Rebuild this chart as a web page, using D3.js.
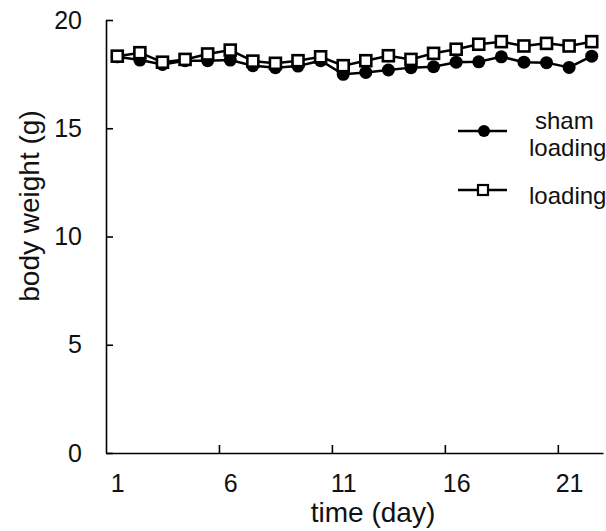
<!DOCTYPE html>
<html lang="en">
<head>
    <meta charset="UTF-8">
    <title>Body weight over time</title>
    <style>
        body{
            margin: 0;
            background-color: #ffffff;
        }
        svg{
            display: block;
            font-family: "Liberation Sans", Arial, sans-serif;
        }
        .axis path, .axis line{
            stroke: #000;
            stroke-width: 1.6px;
        }
        .axis text{
            font-size: 25px;
            fill: #111;
        }
        .label{
            font-size: 28px;
            fill: #111;
        }
        .legend text{
            font-size: 24px;
            fill: #111;
        }
    </style>
    <script src="https://cdn.jsdelivr.net/npm/d3@7"></script>
</head>
<body>
    <script>
        // days and the two series (body weight in g)
        const days = d3.range(1, 23);
        const dayLabels = [1, 6, 11, 16, 21];
        const yTicks = [0, 5, 10, 15, 20];
        const shamLoading = [18.3, 18.15, 17.95, 18.12, 18.12, 18.15, 17.89, 17.8, 17.87, 18.12, 17.49,
            17.58, 17.69, 17.8, 17.84, 18.05, 18.07, 18.3, 18.05, 18.03, 17.81, 18.33];
        const loading = [18.33, 18.49, 18.05, 18.18, 18.43, 18.61, 18.1, 18.0, 18.12, 18.3, 17.89,
            18.12, 18.35, 18.18, 18.46, 18.65, 18.88, 19.0, 18.8, 18.92, 18.8, 19.0];

        const width = 606;
        const height = 531;
        const margins = {top: 20, bottom: 78, left: 106, right: 3};

        const svg = d3.select("body").append("svg")
            .attr("width", width)
            .attr("height", height);

        // category axis: each day takes one slot, ticks sit between slots
        const xScale = d3.scaleLinear()
            .domain([0.5, 22.5])
            .range([margins.left, width - margins.right]);
        const yScale = d3.scaleLinear()
            .domain([0, 20])
            .range([height - margins.bottom, margins.top]);

        // x axis with inside ticks at the slot borders
        svg.append("g").attr("class", "axis")
            .attr("transform", `translate(0,${height - margins.bottom})`)
            .call(d3.axisBottom(xScale)
                .tickValues([5.5, 10.5, 15.5, 20.5])
                .tickSize(-8)
                .tickSizeOuter(0)
                .tickFormat(""));
        // x labels centred on the days
        svg.append("g").attr("class", "axis")
            .attr("transform", `translate(0,${height - margins.bottom})`)
            .call(d3.axisBottom(xScale)
                .tickValues(dayLabels)
                .tickSize(0)
                .tickPadding(21))
            .call(g => g.select(".domain").remove());

        // y axis
        svg.append("g").attr("class", "axis")
            .attr("transform", `translate(${margins.left},0)`)
            .call(d3.axisLeft(yScale)
                .tickValues(yTicks)
                .tickSize(-7)
                .tickSizeOuter(0)
                .tickPadding(24));

        // lines + markers
        const series = [
            {name: "sham", values: shamLoading, marker: "circle"},
            {name: "loading", values: loading, marker: "square"}
        ];
        const lineGen = d3.line()
            .x((d, i) => xScale(days[i]))
            .y(d => yScale(d));

        series.forEach(s => {
            const g = svg.append("g").attr("class", s.name);
            g.append("path")
                .attr("d", lineGen(s.values))
                .attr("fill", "none")
                .attr("stroke", "#000")
                .attr("stroke-width", 2.5);
            if (s.marker === "circle") {
                g.selectAll("circle")
                    .data(s.values)
                    .enter()
                    .append("circle")
                    .attr("cx", (d, i) => xScale(days[i]))
                    .attr("cy", d => yScale(d))
                    .attr("r", 6.5)
                    .attr("fill", "#000");
            } else {
                g.selectAll("rect")
                    .data(s.values)
                    .enter()
                    .append("rect")
                    .attr("x", (d, i) => xScale(days[i]) - 5.5)
                    .attr("y", d => yScale(d) - 5.5)
                    .attr("width", 11)
                    .attr("height", 11)
                    .attr("fill", "#fff")
                    .attr("stroke", "#000")
                    .attr("stroke-width", 2.6);
            }
        });

        // legend
        const legend = svg.append("g").attr("class", "legend");
        legend.append("line")
            .attr("x1", 458).attr("x2", 507)
            .attr("y1", 131).attr("y2", 131)
            .attr("stroke", "#000").attr("stroke-width", 2.4);
        legend.append("circle")
            .attr("cx", 484).attr("cy", 131).attr("r", 6)
            .attr("fill", "#000");
        legend.append("text").attr("x", 535).attr("y", 129).text("sham");
        legend.append("text").attr("x", 529).attr("y", 156).text("loading");

        legend.append("line")
            .attr("x1", 458).attr("x2", 507)
            .attr("y1", 190).attr("y2", 190)
            .attr("stroke", "#000").attr("stroke-width", 2.4);
        legend.append("rect")
            .attr("x", 478).attr("y", 185)
            .attr("width", 10).attr("height", 10)
            .attr("fill", "#fff").attr("stroke", "#000").attr("stroke-width", 2.2);
        legend.append("text").attr("x", 529).attr("y", 204).text("loading");

        // axis titles
        svg.append("text")
            .attr("class", "label")
            .attr("transform", "rotate(-90)")
            .attr("x", -206)
            .attr("y", 39)
            .style("text-anchor", "middle")
            .text("body weight (g)");

        svg.append("text")
            .attr("class", "label")
            .attr("x", 373)
            .attr("y", 522)
            .style("text-anchor", "middle")
            .text("time (day)");
    </script>
</body>
</html>
